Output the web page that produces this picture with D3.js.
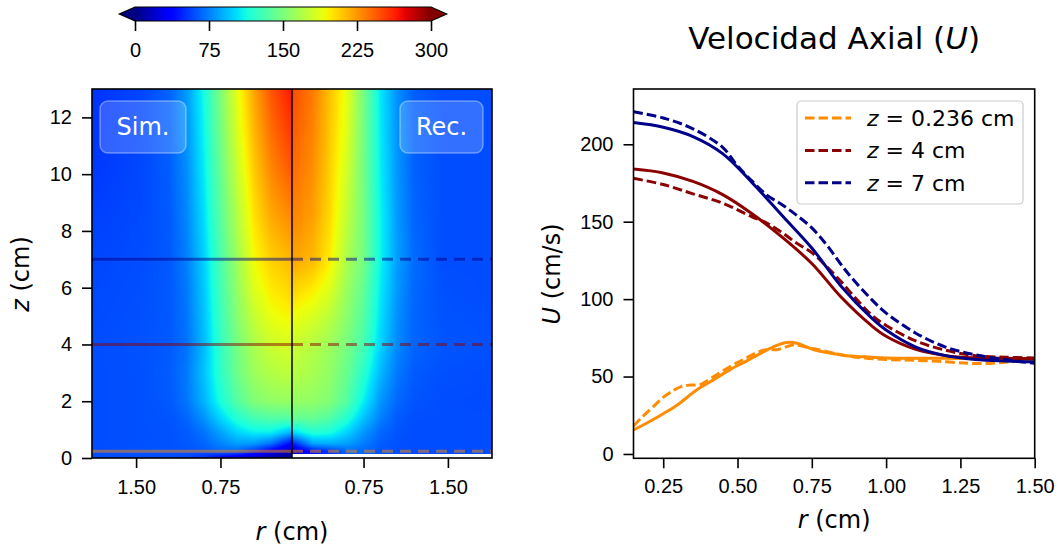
<!DOCTYPE html>
<html>
<head>
<meta charset="utf-8">
<script src="https://cdn.jsdelivr.net/npm/d3@7.9.0/dist/d3.min.js"></script>
<style>
  body { margin: 0; background: #fff; }
  svg { font-family: "DejaVu Sans", sans-serif; }
</style>
</head>
<body>
<svg id="chart" width="1062" height="550"></svg>
<script>
// ---------- data ----------
// radial grid of the field (cm), shared by both halves
const rGrid = [0.114, 0.3, 0.45, 0.6, 0.75, 0.9, 1.05, 1.2, 1.45, 1.892];

// simulation field U (cm/s), one row per z level
const zSim = [0, 0.236, 0.5, 0.9, 1.4, 2, 3, 4, 5, 6, 7, 8.5, 10, 11.5, 13];
const uSim = [
  [2, 8, 15, 24, 36, 50, 57, 59, 60, 60],
  [11, 32, 51.5, 67, 68, 63, 62, 61.8, 61.5, 60],
  [35, 70, 82, 84, 76, 67, 63, 61.5, 61, 60],
  [90, 108, 108, 100, 85, 71, 64, 61.5, 61, 60],
  [135, 135, 130, 118, 100, 80, 67, 62, 61, 60],
  [160, 158, 152, 136, 114, 90, 72, 63.5, 61, 60],
  [175, 170, 162, 145, 121, 94, 73, 64.5, 61, 60],
  [184.5, 179, 167.5, 148, 123, 92, 71, 63.5, 61.5, 60],
  [196, 190, 177, 154, 126, 94, 72, 63.5, 61, 59],
  [206, 199, 186, 159, 129, 96, 73, 63.5, 60.5, 58.5],
  [215, 207, 193, 163, 132, 98, 75, 63.5, 60, 58],
  [230, 219, 201, 170, 137, 102, 77, 64, 59, 56],
  [244, 229, 208, 177, 142, 106, 79, 65, 58.5, 54],
  [256, 238, 215, 184, 147, 109, 81, 66, 58, 53],
  [266, 246, 221, 189, 151, 112, 83, 67, 58, 52]
];

// reconstructed field U (cm/s)
const zRec = [0.15, 0.236, 0.5, 0.9, 1.4, 2, 3, 4, 5, 6, 7, 8.5, 10, 11.5, 13];
const uRec = [
  [14, 43, 53, 67.5, 68, 62.5, 60.8, 59.5, 60, 60],
  [14, 43, 53, 67.5, 68, 62.5, 60.8, 59.5, 60, 60],
  [45, 85, 88, 84, 74, 65, 61, 60, 60, 60],
  [100, 118, 114, 100, 82, 68, 62, 60, 60, 60],
  [140, 142, 135, 118, 95, 75, 64, 60.5, 60, 60],
  [160, 158, 152, 136, 108, 82, 68, 62, 60, 59],
  [172, 166, 158, 143, 120, 92, 73, 64, 61, 60],
  [179, 171, 162, 149, 131, 100, 78, 67, 62.5, 61],
  [192, 184, 173, 156, 136, 104, 80, 67, 61.5, 60.5],
  [207, 199, 186, 162, 141, 107, 82, 68, 61, 60],
  [222, 214, 198, 168, 147, 110, 84, 69, 60, 60],
  [232, 222, 204, 175, 148, 110, 83, 67, 60, 60],
  [239, 227, 207, 181, 147, 108, 82, 66, 60, 60],
  [245, 231, 210, 186, 147, 107, 81, 66, 60, 60],
  [250, 234, 212, 189, 148, 106, 80, 65, 60, 60]
];

// profiles [r (cm), U (cm/s)]
const orangeSim = [[0.15,15.5],[0.2,20.5],[0.25,26],[0.3,32],[0.36,41],[0.42,48],[0.475,54.5],[0.53,60],[0.587,66],[0.63,70],[0.666,72],[0.7,71.5],[0.755,67.5],[0.8,65.5],[0.868,63.5],[0.95,62.5],[1.0,62],[1.1,61.8],[1.2,61.8],[1.3,61.5],[1.4,61.5],[1.5,61.5]];
const orangeRec = [[0.15,18],[0.18,24],[0.216,30.5],[0.25,36.5],[0.284,41],[0.31,43.5],[0.34,44.5],[0.374,44.8],[0.42,50],[0.475,56.5],[0.52,61],[0.565,65.5],[0.6,67.5],[0.632,67.3],[0.66,69],[0.69,70.5],[0.73,69],[0.77,67.5],[0.85,64],[0.924,62],[1.0,61],[1.1,60.5],[1.2,59.5],[1.283,58.5],[1.35,58.5],[1.42,59.5],[1.5,60.5]];
const redSim = [[0.15,184],[0.25,181.5],[0.35,176],[0.45,167.5],[0.55,155],[0.65,140],[0.75,123],[0.85,101],[0.95,83],[1.0,76],[1.1,67.5],[1.2,63.5],[1.3,62],[1.4,61.8],[1.5,61.5]];
const redRec = [[0.15,178],[0.25,174],[0.35,168],[0.45,162],[0.55,153],[0.6,149],[0.65,143],[0.7,136],[0.75,130],[0.8,121],[0.85,111],[0.9,100],[0.95,90],[1.0,83],[1.1,73],[1.2,67],[1.3,63.5],[1.4,62.5],[1.5,62]];
const blueSim = [[0.15,214],[0.25,211],[0.35,205],[0.45,194],[0.55,175],[0.65,154],[0.75,133],[0.85,108],[0.95,88],[1.0,80],[1.1,69],[1.2,63.5],[1.3,61],[1.4,60],[1.5,59.5]];
const blueRec = [[0.15,221],[0.25,217],[0.35,210],[0.45,198],[0.5,186],[0.55,176],[0.6,167],[0.65,161],[0.7,154],[0.75,146],[0.8,135],[0.87,117],[0.95,100],[1.0,91],[1.1,78],[1.2,69],[1.3,64],[1.4,61],[1.5,58.5]];

const cutHeights = [0.236, 4, 7];
const cutColors = ['#ff8c00', '#8b0000', '#00008b'];
const legendLabels = ['0.236', '4', '7'];
const cbTicks = [0, 75, 150, 225, 300];
const zTicks = [0, 2, 4, 6, 8, 10, 12];
const rTicksMap = [0.75, 1.5];
const rTicksProfile = [0.25, 0.5, 0.75, 1.0, 1.25, 1.5];
const uTicks = [0, 50, 100, 150, 200];

// ---------- helpers ----------
const svg = d3.select('#chart');

const jetR = d3.scaleLinear().domain([0, 0.35, 0.66, 0.89, 1]).range([0, 0, 1, 1, 0.5]).clamp(true);
const jetG = d3.scaleLinear().domain([0, 0.125, 0.375, 0.64, 0.91, 1]).range([0, 0, 1, 1, 0, 0]).clamp(true);
const jetB = d3.scaleLinear().domain([0, 0.11, 0.34, 0.65, 1]).range([0.5, 1, 1, 0, 0]).clamp(true);
const uNorm = d3.scaleLinear().domain([0, 300]).range([0, 1]).clamp(true);
function jet(u) {
  const t = uNorm(u);
  return [jetR(t) * 255, jetG(t) * 255, jetB(t) * 255];
}
const jetCss = u => 'rgb(' + jet(u).map(Math.round).join(',') + ')';

function sample(zs, grid, r, z) {
  const i = Math.max(0, Math.min(d3.bisectRight(rGrid, r) - 1, rGrid.length - 2));
  const j = Math.max(0, Math.min(d3.bisectRight(zs, z) - 1, zs.length - 2));
  const tr = Math.max(0, Math.min(1, (r - rGrid[i]) / (rGrid[i + 1] - rGrid[i])));
  const tz = Math.max(0, Math.min(1, (z - zs[j]) / (zs[j + 1] - zs[j])));
  const a = grid[j][i] * (1 - tr) + grid[j][i + 1] * tr;
  const b = grid[j + 1][i] * (1 - tr) + grid[j + 1][i + 1] * tr;
  return a * (1 - tz) + b * tz;
}

function styleAxis(g) {
  g.select('.domain').remove();
  g.selectAll('.tick line').attr('stroke', '#000').attr('stroke-width', 1.6);
  g.selectAll('.tick text').attr('font-size', 20).attr('fill', '#000');
}

// ---------- left: field map ----------
const mapTop = 89, mapBottom = 458, mapLeft = 92, mapRight = 492, mapMid = 292;
const zScale = d3.scaleLinear().domain([0, 13]).range([mapBottom, mapTop]);
const rLeft = d3.scaleLinear().domain([0.114, 1.892]).range([mapMid, mapLeft]);
const rRight = d3.scaleLinear().domain([0.114, 1.892]).range([mapMid, mapRight]);

const W = mapRight - mapLeft, H = mapBottom - mapTop;
const canvas = document.createElement('canvas');
canvas.width = W; canvas.height = H;
const ctx = canvas.getContext('2d');
const img = ctx.createImageData(W, H);
for (let py = 0; py < H; py++) {
  const z = zScale.invert(mapTop + py + 0.5);
  for (let px = 0; px < W; px++) {
    const X = mapLeft + px + 0.5;
    const k = (py * W + px) * 4;
    let u;
    if (X < mapMid) {
      u = sample(zSim, uSim, rLeft.invert(X), z);
    } else {
      if (z < zRec[0]) { img.data[k + 3] = 0; continue; }
      u = sample(zRec, uRec, rRight.invert(X), z);
    }
    const c = jet(u);
    img.data[k] = c[0]; img.data[k + 1] = c[1]; img.data[k + 2] = c[2]; img.data[k + 3] = 255;
  }
}
ctx.putImageData(img, 0, 0);
svg.append('image')
  .attr('x', mapLeft).attr('y', mapTop).attr('width', W).attr('height', H)
  .attr('preserveAspectRatio', 'none')
  .attr('href', canvas.toDataURL());

// cut lines
cutHeights.forEach((z, i) => {
  svg.append('line')
    .attr('x1', mapLeft).attr('x2', mapMid).attr('y1', zScale(z)).attr('y2', zScale(z))
    .attr('stroke', cutColors[i]).attr('stroke-width', 3).attr('stroke-opacity', 0.5);
  svg.append('line')
    .attr('x1', mapMid).attr('x2', mapRight).attr('y1', zScale(z)).attr('y2', zScale(z))
    .attr('stroke', cutColors[i]).attr('stroke-width', 3).attr('stroke-opacity', 0.5)
    .attr('stroke-dasharray', '11,7');
});

svg.append('line')
  .attr('x1', mapMid).attr('x2', mapMid).attr('y1', mapTop).attr('y2', mapBottom)
  .attr('stroke', '#000').attr('stroke-width', 1.5);
svg.append('rect')
  .attr('x', mapLeft).attr('y', mapTop).attr('width', W).attr('height', H)
  .attr('fill', 'none').attr('stroke', '#000').attr('stroke-width', 1.6);

// Sim. / Rec. boxes
[['Sim.', 100, 86], ['Rec.', 400, 83]].forEach(([t, x, w]) => {
  svg.append('rect').attr('x', x).attr('y', 101).attr('width', w).attr('height', 52).attr('rx', 8)
    .attr('fill', '#fff').attr('fill-opacity', 0.2)
    .attr('stroke', '#fff').attr('stroke-opacity', 0.35).attr('stroke-width', 1.5);
  svg.append('text').attr('x', x + w / 2).attr('y', 135).attr('text-anchor', 'middle')
    .attr('font-size', 24).attr('fill', '#fff').text(t);
});

svg.append('g').attr('transform', `translate(${mapLeft},0)`)
  .call(d3.axisLeft(zScale).tickValues(zTicks).tickSize(10).tickPadding(10))
  .call(styleAxis);
svg.append('g').attr('transform', `translate(0,${mapBottom})`)
  .call(d3.axisBottom(rLeft).tickValues(rTicksMap).tickFormat(d3.format('.2f')).tickSize(10).tickPadding(12))
  .call(styleAxis);
svg.append('g').attr('transform', `translate(0,${mapBottom})`)
  .call(d3.axisBottom(rRight).tickValues(rTicksMap).tickFormat(d3.format('.2f')).tickSize(10).tickPadding(12))
  .call(styleAxis);

const zLab = svg.append('text').attr('transform', 'translate(29,274) rotate(-90)')
  .attr('text-anchor', 'middle').attr('font-size', 24);
zLab.append('tspan').attr('font-style', 'italic').text('z');
zLab.append('tspan').text(' (cm)');
const rLab1 = svg.append('text').attr('x', 292).attr('y', 540).attr('text-anchor', 'middle').attr('font-size', 24);
rLab1.append('tspan').attr('font-style', 'italic').text('r');
rLab1.append('tspan').text(' (cm)');

// ---------- colour bar ----------
const cbX = d3.scaleLinear().domain([0, 300]).range([135, 431]);
const grad = svg.append('defs').append('linearGradient').attr('id', 'jetgrad');
d3.range(0, 301, 5).forEach(v => grad.append('stop').attr('offset', v / 300).attr('stop-color', jetCss(v)));
svg.append('rect').attr('x', cbX(0)).attr('y', 7).attr('width', cbX(300) - cbX(0)).attr('height', 14)
  .attr('fill', 'url(#jetgrad)');
svg.append('path').attr('d', `M${cbX(0)},7 L${cbX(0) - 15.7},14 L${cbX(0)},21 Z`).attr('fill', jetCss(0));
svg.append('path').attr('d', `M${cbX(300)},7 L${cbX(300) + 15.7},14 L${cbX(300)},21 Z`).attr('fill', 'rgb(128,0,0)');
svg.append('path')
  .attr('d', `M${cbX(0)},7 L${cbX(300)},7 L${cbX(300) + 15.7},14 L${cbX(300)},21 L${cbX(0)},21 L${cbX(0) - 15.7},14 Z`)
  .attr('fill', 'none').attr('stroke', '#000').attr('stroke-width', 1.2);
svg.append('g').attr('transform', 'translate(0,21)')
  .call(d3.axisBottom(cbX).tickValues(cbTicks).tickSize(10).tickPadding(12))
  .call(styleAxis);

// ---------- right: profiles ----------
const pLeft = 633.5, pRight = 1034.7, pTop = 89, pBottom = 458.3;
const xU = d3.scaleLinear().domain([0.15, 1.5]).range([pLeft, pRight]);
const yU = d3.scaleLinear().domain([-2.8, 235.7]).range([pBottom, pTop]);

svg.append('defs').append('clipPath').attr('id', 'pclip')
  .append('rect').attr('x', pLeft).attr('y', pTop).attr('width', pRight - pLeft).attr('height', pBottom - pTop);

const line = d3.line().x(d => xU(d[0])).y(d => yU(d[1])).curve(d3.curveCatmullRom.alpha(0.5));
const profiles = [
  { color: cutColors[0], sim: orangeSim, rec: orangeRec },
  { color: cutColors[1], sim: redSim, rec: redRec },
  { color: cutColors[2], sim: blueSim, rec: blueRec }
];
const pg = svg.append('g').attr('clip-path', 'url(#pclip)');
profiles.forEach(p => {
  pg.append('path').attr('d', line(p.sim)).attr('fill', 'none')
    .attr('stroke', p.color).attr('stroke-width', 3);
  pg.append('path').attr('d', line(p.rec)).attr('fill', 'none')
    .attr('stroke', p.color).attr('stroke-width', 3).attr('stroke-dasharray', '9.5,4');
});

svg.append('rect').attr('x', pLeft).attr('y', pTop).attr('width', pRight - pLeft).attr('height', pBottom - pTop)
  .attr('fill', 'none').attr('stroke', '#000').attr('stroke-width', 1.6);

svg.append('g').attr('transform', `translate(${pLeft},0)`)
  .call(d3.axisLeft(yU).tickValues(uTicks).tickSize(10).tickPadding(10))
  .call(styleAxis);
svg.append('g').attr('transform', `translate(0,${pBottom})`)
  .call(d3.axisBottom(xU).tickValues(rTicksProfile).tickFormat(d3.format('.2f')).tickSize(10).tickPadding(11))
  .call(styleAxis);

const uLab = svg.append('text').attr('transform', 'translate(560,274) rotate(-90)')
  .attr('text-anchor', 'middle').attr('font-size', 24);
uLab.append('tspan').attr('font-style', 'italic').text('U');
uLab.append('tspan').text(' (cm/s)');
const rLab2 = svg.append('text').attr('x', (pLeft + pRight) / 2).attr('y', 528).attr('text-anchor', 'middle').attr('font-size', 24);
rLab2.append('tspan').attr('font-style', 'italic').text('r');
rLab2.append('tspan').text(' (cm)');

const title = svg.append('text').attr('x', (pLeft + pRight) / 2).attr('y', 49).attr('text-anchor', 'middle').attr('font-size', 31);
title.append('tspan').text('Velocidad Axial (');
title.append('tspan').attr('font-style', 'italic').text('U');
title.append('tspan').text(')');

// legend
svg.append('rect').attr('x', 797).attr('y', 101).attr('width', 226).attr('height', 103).attr('rx', 4)
  .attr('fill', '#fff').attr('fill-opacity', 0.8).attr('stroke', '#cccccc').attr('stroke-width', 1.2);
legendLabels.forEach((lab, i) => {
  const y = 118 + i * 32.4;
  svg.append('line').attr('x1', 805).attr('x2', 851).attr('y1', y).attr('y2', y)
    .attr('stroke', cutColors[i]).attr('stroke-width', 3).attr('stroke-dasharray', '9.5,4');
  const t = svg.append('text').attr('x', 867).attr('y', y + 8).attr('font-size', 22);
  t.append('tspan').attr('font-style', 'italic').text('z');
  t.append('tspan').text(' = ' + lab + ' cm');
});
</script>
</body>
</html>
